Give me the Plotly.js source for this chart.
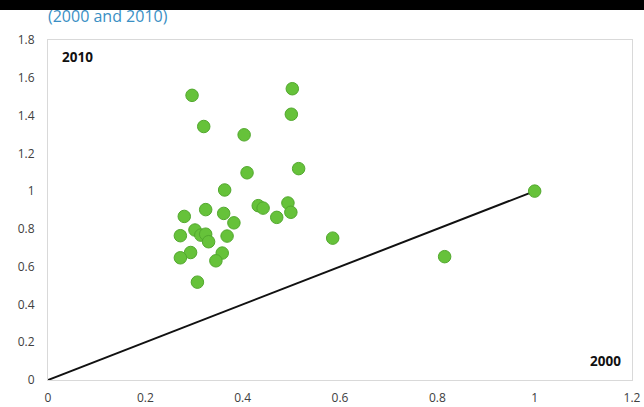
<!DOCTYPE html>
<html>
<head>
<meta charset="utf-8">
<script src="https://cdn.plot.ly/plotly-3.0.1.min.js"></script>
<style>html,body{margin:0;padding:0;background:#fff;}#chart{width:644px;height:407px;}</style>
</head>
<body>
<div id="chart"></div>
<script>
// Ratio in 2000 (x) vs ratio in 2010 (y)
const x2000 = [0.296,0.502,0.500,0.320,0.403,0.515,0.409,0.363,0.493,0.432,0.442,0.499,0.324,0.361,0.280,0.470,0.382,0.302,0.314,0.324,0.330,0.272,0.368,0.585,0.293,0.272,0.358,0.345,0.307,0.815,1.000];
const y2010 = [1.507,1.542,1.407,1.342,1.298,1.119,1.097,1.006,0.937,0.923,0.910,0.888,0.902,0.882,0.866,0.861,0.832,0.794,0.767,0.772,0.732,0.764,0.762,0.751,0.675,0.647,0.672,0.631,0.518,0.653,1.000];
const lineX = [0, 1];
const lineY = [0, 1];
const xTicks = [0, 0.2, 0.4, 0.6, 0.8, 1, 1.2];
const yTicks = [0, 0.2, 0.4, 0.6, 0.8, 1, 1.2, 1.4, 1.6, 1.8];
const titleText = "(2000 and 2010)";

const traces = [
  {x: lineX, y: lineY, type: 'scatter', mode: 'lines', line: {color: '#111111', width: 2}, hoverinfo: 'skip'},
  {x: x2000, y: y2010, type: 'scatter', mode: 'markers',
   marker: {size: 12.5, color: '#66c23a', line: {color: '#52a82e', width: 1}}}
];

const axisFont = {family: 'Open Sans, DejaVu Sans, sans-serif', size: 12, color: '#404040'};
const layout = {
  width: 644, height: 407,
  margin: {l: 48, r: 12, t: 40, b: 27},
  paper_bgcolor: '#ffffff', plot_bgcolor: '#ffffff',
  showlegend: false,
  title: {text: titleText, x: 0, xref: 'paper', xanchor: 'left', y: 1, yref: 'container', yanchor: 'top', pad: {t: 11},
          font: {family: 'Open Sans, DejaVu Sans, sans-serif', size: 16, color: '#3a8fc4'}},
  xaxis: {range: [0, 1.2], tickvals: xTicks, ticktext: xTicks.map(String), showgrid: false, zeroline: false,
          showline: true, linecolor: '#d9d9d9', linewidth: 1, mirror: true,
          ticks: 'outside', ticklen: 7, tickcolor: 'rgba(0,0,0,0)', tickfont: axisFont},
  yaxis: {range: [0, 1.8], tickvals: yTicks, ticktext: yTicks.map(String), showgrid: false, zeroline: false,
          showline: true, linecolor: '#d9d9d9', linewidth: 1, mirror: true,
          ticks: 'outside', ticklen: 10, tickcolor: 'rgba(0,0,0,0)', tickfont: axisFont},
  shapes: [
    {type: 'rect', xref: 'paper', yref: 'paper', x0: -0.1, x1: 1.1, y0: 1.088, y1: 1.2, fillcolor: '#000000', line: {width: 0}, layer: 'below'}
  ],
  annotations: [
    {text: '<b>2010</b>', xref: 'paper', yref: 'paper', x: 0.02, y: 0.95, xanchor: 'left', yanchor: 'middle', showarrow: false,
     font: {family: 'Open Sans, DejaVu Sans, sans-serif', size: 13.5, color: '#111111'}},
    {text: '<b>2000</b>', xref: 'paper', yref: 'paper', x: 0.985, y: 0.055, xanchor: 'right', yanchor: 'middle', showarrow: false,
     font: {family: 'Open Sans, DejaVu Sans, sans-serif', size: 13.5, color: '#111111'}}
  ]
};
Plotly.newPlot('chart', traces, layout, {displayModeBar: false, staticPlot: true});
</script>
</body>
</html>
